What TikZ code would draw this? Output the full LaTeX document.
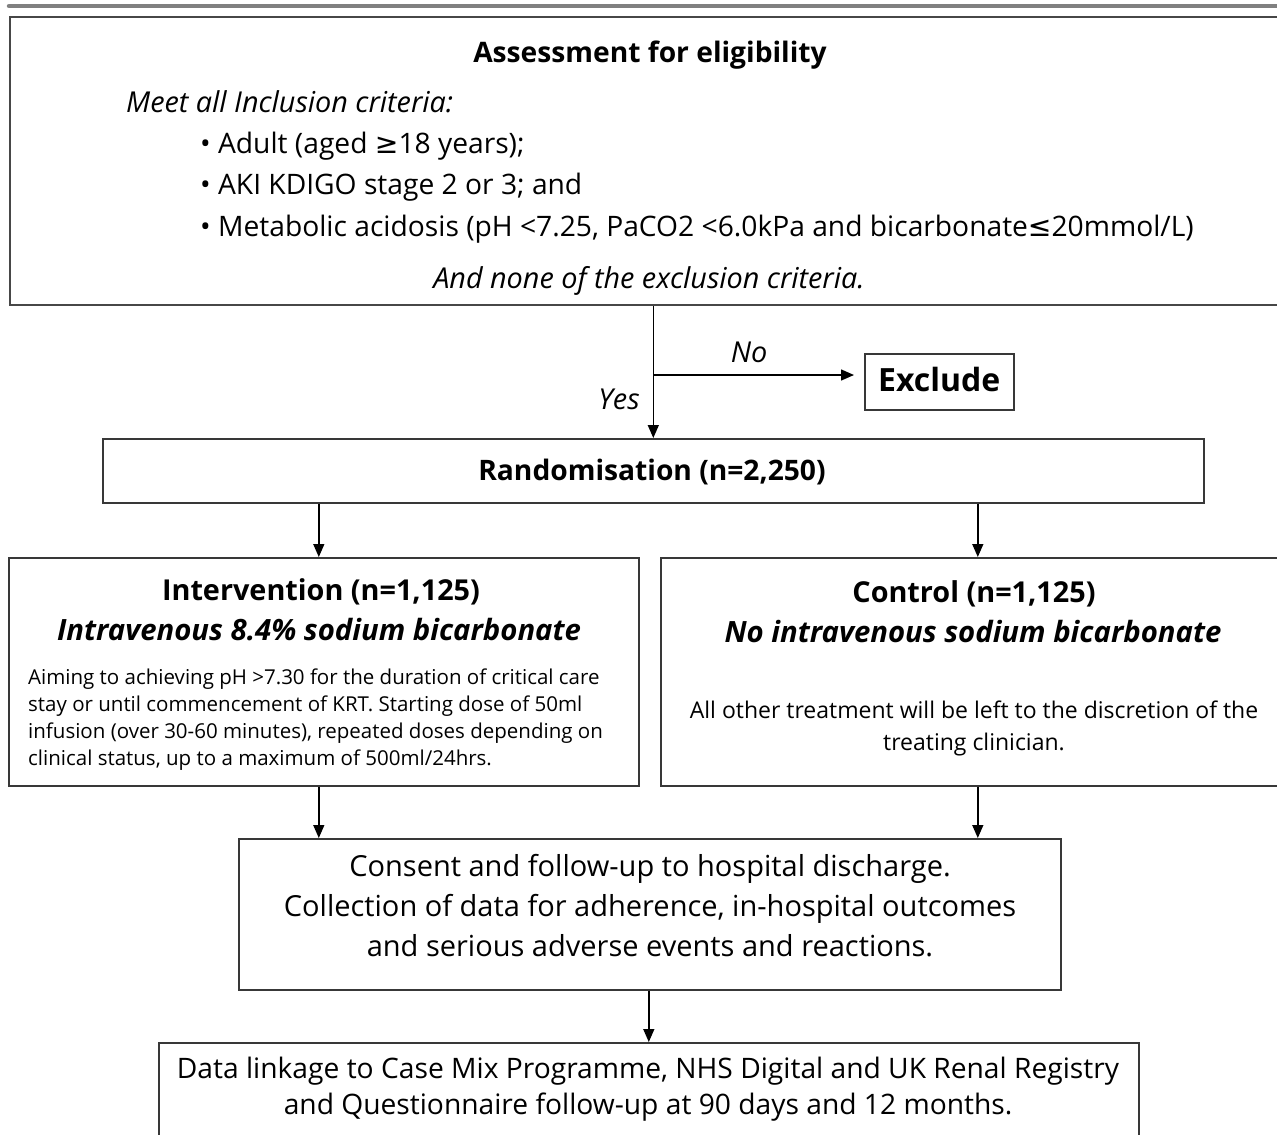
\documentclass[tikz,border=0pt]{standalone}
\usepackage{fontspec}
\setmainfont{Open Sans}
\newfontfamily\symf{DejaVu Sans}
\usetikzlibrary{arrows.meta}
\begin{document}
\begin{tikzpicture}[x=1pt,y=-1pt,
  box/.style={draw=black!78, line width=1.6pt, inner sep=0pt, anchor=north west},
  arr/.style={-{Triangle[length=13pt,width=11pt]}, line width=1.4pt},
  lbl/.style={inner sep=0pt, anchor=mid},
  big/.style={font=\fontsize{28.2}{40}\selectfont},
  bigb/.style={font=\fontsize{28.2}{40}\selectfont\bfseries},
  armb/.style={font=\fontsize{28.8}{40}\selectfont\bfseries},
  bigi/.style={font=\fontsize{28.8}{40}\selectfont\itshape},
  subt/.style={font=\fontsize{29.3}{40}\selectfont\bfseries\itshape},
  small/.style={font=\fontsize{20.5}{27}\selectfont}]
\useasboundingbox (0,0) rectangle (1277,1135);
\clip (0,0) rectangle (1277,1135);
% top rule
\draw[line width=4.5pt, gray, line cap=round] (9,6) -- (1300,6);
% boxes
\node[box, draw=black!72, line width=2pt, minimum width=1281pt, minimum height=288pt] (assess) at (9,16) {};
\node[box, minimum width=149pt, minimum height=56pt] (excl) at (864,353) {};
\node[box, minimum width=1101pt, minimum height=64pt] (rand) at (102,438) {};
\node[box, minimum width=630pt, minimum height=228pt] (interv) at (8,557) {};
\node[box, minimum width=630pt, minimum height=228pt] (control) at (660,557) {};
\node[box, minimum width=822pt, minimum height=151pt] (consent) at (238,838) {};
\node[box, minimum width=980pt, minimum height=130pt] (data) at (158,1042) {};
% texts: assessment
\node[lbl, bigb] (t1) at (650,60) {Assessment for eligibility};
\node[lbl, bigi, anchor=mid west] (t2) at (126,110) {Meet all Inclusion criteria:};
\node[lbl, big, anchor=mid west] (b1) at (200,151) {• Adult (aged {\symf ≥}18 years);};
\node[lbl, big, anchor=mid west] (b2) at (200,192) {• AKI KDIGO stage 2 or 3; and};
\node[lbl, big, anchor=mid west] (b3) at (200,234) {• Metabolic acidosis (pH <7.25, PaCO2 <6.0kPa and bicarbonate{\symf ≤}20mmol/L)};
\node[lbl, bigi] (t3) at (649,286) {And none of the exclusion criteria.};
% branch
\coordinate (br) at (rand.north |- 0,375);
\draw[line width=1.4pt] (assess.south -| rand.north) -- (br);
\draw[arr] (br) -- (rand.north);
\draw[arr, shorten >=10pt] (br) -- (br -| excl.west);
\node[lbl, bigi] (no) at (749,360) {No};
\node[lbl, bigi] (yes) at (619,407) {Yes};
\node[lbl, font=\fontsize{32}{40}\selectfont\bfseries] (tx) at ([yshift=-7pt]excl.center) {Exclude};
\node[lbl, bigb] (tr) at (652,478) {Randomisation (n=2,250)};
% arms
\draw[arr] ([xshift=-5pt]interv.north |- rand.south) -- ([xshift=-5pt]interv.north);
\draw[arr] ([xshift=2pt]control.north |- rand.south) -- ([xshift=2pt]control.north);
\node[lbl, armb] (it) at (321,598) {Intervention (n=1,125)};
\node[lbl, subt] (is) at (319,638) {Intravenous 8.4\% sodium bicarbonate};
\node[small, inner sep=0pt, anchor=west, align=left] (ib) at (28,720)
  {Aiming to achieving pH >7.30 for the duration of critical care\\
   stay or until commencement of KRT. Starting dose of 50ml\\
   infusion (over 30-60 minutes), repeated doses depending on\\
   clinical status, up to a maximum of 500ml/24hrs.};
\node[lbl, armb] (ct) at (974,600) {Control (n=1,125)};
\node[lbl, subt] (cs) at (973,640) {No intravenous sodium bicarbonate};
\node[inner sep=0pt, align=center, font=\fontsize{23}{32}\selectfont] (cb) at (974,728)
  {All other treatment will be left to the discretion of the\\ treating clinician.};
% to consent
\draw[arr] ([xshift=-5pt]interv.north |- interv.south) -- ([xshift=-5pt]interv.north |- consent.north);
\draw[arr] ([xshift=2pt]control.north |- control.south) -- ([xshift=2pt]control.north |- consent.north);
\node[inner sep=0pt, align=center, font=\fontsize{29}{40}\selectfont] (ctx) at (650,906)
  {Consent and follow-up to hospital discharge.\\
   Collection of data for adherence, in-hospital outcomes\\
   and serious adverse events and reactions.};
\draw[arr] (consent.south -| data.north) -- (data.north);
\node[inner sep=0pt, align=center, font=\fontsize{28.2}{36}\selectfont] (dtx) at (648,1089)
  {Data linkage to Case Mix Programme, NHS Digital and UK Renal Registry\\
   and Questionnaire follow-up at 90 days and 12 months.};
\end{tikzpicture}
\end{document}
